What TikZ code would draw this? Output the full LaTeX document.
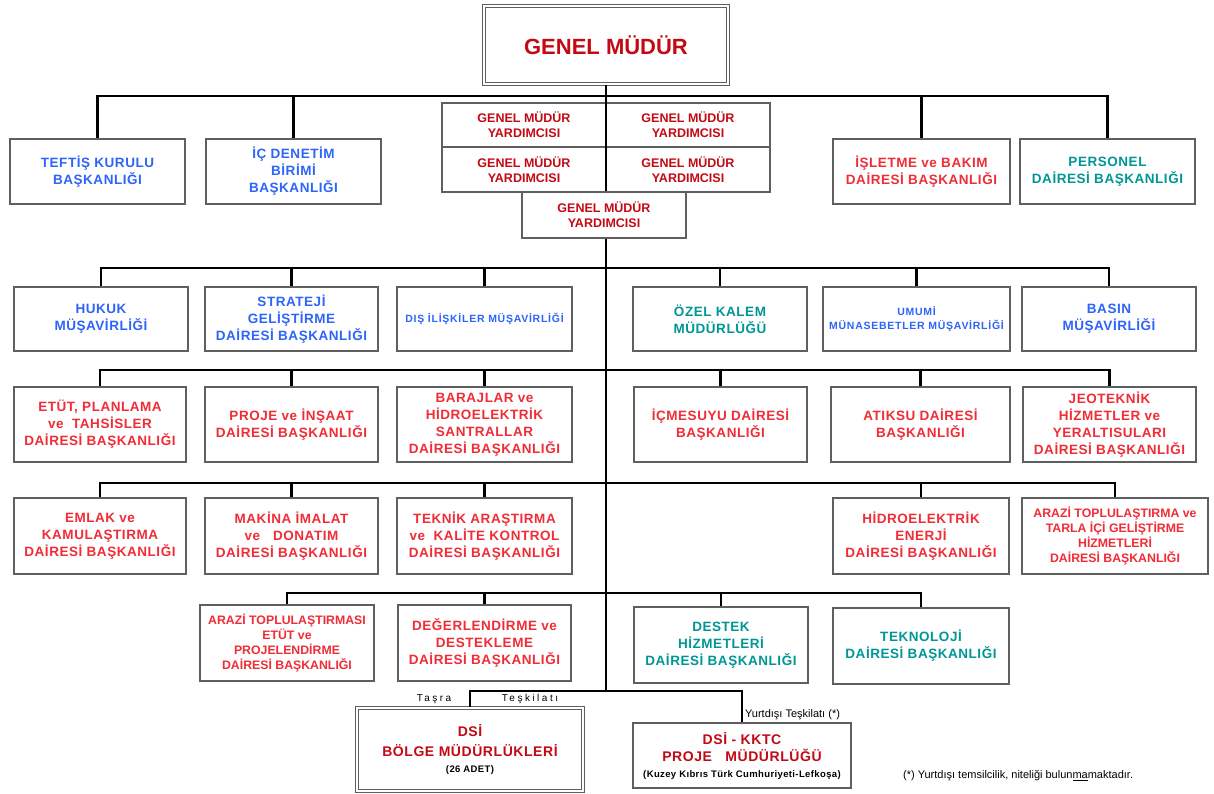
\documentclass[tikz,border=0pt]{standalone}
\usepackage{fontspec}
\setmainfont{Liberation Sans}
\newfontfamily\spacedfont[LetterSpace=25]{Liberation Sans}
\newfontfamily\boxfont[LetterSpace=4]{Liberation Sans}
\newfontfamily\smallboxfont[LetterSpace=7]{Liberation Sans}
\usetikzlibrary{shadows}
\definecolor{tred}{RGB}{240,45,55}
\definecolor{dred}{RGB}{195,10,20}
\definecolor{tblue}{RGB}{45,100,250}
\definecolor{tteal}{RGB}{0,150,150}
\definecolor{boxgray}{RGB}{95,95,95}
\tikzset{
  box/.style={draw=boxgray, line width=1.3pt, fill=white, align=center, inner sep=1pt,
    font=\boxfont\fontsize{13.5}{17}\selectfont\bfseries,
    drop shadow={shadow xshift=1.3pt, shadow yshift=-1.3pt, opacity=0.25}},
  sz/.style 2 args={minimum width=#1pt, minimum height=#2pt},
  dbox/.style={box, draw=boxgray, line width=1.6pt, double=white, double distance=1.4pt},
  gmyfont/.style={font=\fontsize{12.5}{15}\selectfont\bfseries},
  smallfont/.style={font=\smallboxfont\fontsize{10.5}{14}\selectfont\bfseries},
  narrowfont/.style={font=\fontsize{12.3}{15}\selectfont\bfseries},
  conn/.style={line width=2.6pt, black},
  lab/.style={inner sep=0pt, font=\fontsize{10}{12}\selectfont}
}
\begin{document}
\begin{tikzpicture}[x=1pt,y=-1pt]
\useasboundingbox (0,0) rectangle (1214,794);

% top
\node[dbox, sz={244}{78}, text=dred, font=\fontsize{22}{26}\selectfont\bfseries] (gm) at (606,45) {GENEL MÜDÜR};
\node[box, gmyfont, sz={164}{44}, text=dred] (gmy1) at (524,125) {GENEL MÜDÜR\\YARDIMCISI};
\node[box, gmyfont, sz={164}{44}, text=dred] (gmy2) at (688,125) {GENEL MÜDÜR\\YARDIMCISI};
\node[box, gmyfont, sz={164}{45}, text=dred] (gmy3) at (524,169.5) {GENEL MÜDÜR\\YARDIMCISI};
\node[box, gmyfont, sz={164}{45}, text=dred] (gmy4) at (688,169.5) {GENEL MÜDÜR\\YARDIMCISI};
\node[box, gmyfont, sz={164}{46}, text=dred] (gmy5) at (604,215) {GENEL MÜDÜR\\YARDIMCISI};

% row 1
\node[box, sz={175}{65}, text=tblue] (teftis) at (97.5,171.5) {TEFTİŞ KURULU\\BAŞKANLIĞI};
\node[box, sz={175}{65}, text=tblue] (icden) at (293.5,171.5) {İÇ DENETİM\\BİRİMİ\\BAŞKANLIĞI};
\node[box, sz={177}{65}, text=tred] (isletme) at (921.5,171.5) {İŞLETME ve BAKIM\\DAİRESİ BAŞKANLIĞI};
\node[box, sz={175}{65}, text=tteal] (personel) at (1107.5,171.5) {PERSONEL\\DAİRESİ BAŞKANLIĞI};

% row 2
\node[box, sz={174}{64}, text=tblue] (hukuk) at (101,319) {HUKUK\\MÜŞAVİRLİĞİ};
\node[box, sz={173}{64}, text=tblue] (strateji) at (291.5,319) {STRATEJİ\\GELİŞTİRME\\DAİRESİ BAŞKANLIĞI};
\node[box, smallfont, sz={175}{64}, text=tblue] (dis) at (484.5,319) {DIŞ İLİŞKİLER MÜŞAVİRLİĞİ};
\node[box, sz={174}{64}, text=tteal] (ozel) at (720,319) {ÖZEL KALEM\\MÜDÜRLÜĞÜ};
\node[box, smallfont, sz={187}{64}, text=tblue] (umumi) at (916.5,319) {UMUMİ\\MÜNASEBETLER MÜŞAVİRLİĞİ};
\node[box, sz={174}{64}, text=tblue] (basin) at (1109,319) {BASIN\\MÜŞAVİRLİĞİ};

% row 3
\node[box, sz={172}{75}, text=tred] (etut) at (100,424.5) {ETÜT, PLANLAMA\\ve\ \ TAHSİSLER\\DAİRESİ BAŞKANLIĞI};
\node[box, sz={173}{75}, text=tred] (proje) at (291.5,424.5) {PROJE ve İNŞAAT\\DAİRESİ BAŞKANLIĞI};
\node[box, sz={175}{75}, text=tred] (baraj) at (484.5,424.5) {BARAJLAR ve\\HİDROELEKTRİK\\SANTRALLAR\\DAİRESİ BAŞKANLIĞI};
\node[box, sz={173}{75}, text=tred] (icme) at (720.5,424.5) {İÇMESUYU DAİRESİ\\BAŞKANLIĞI};
\node[box, sz={179}{75}, text=tred] (atik) at (920.5,424.5) {ATIKSU DAİRESİ\\BAŞKANLIĞI};
\node[box, sz={173}{75}, text=tred] (jeo) at (1109.5,424.5) {JEOTEKNİK\\HİZMETLER ve\\YERALTISULARI\\DAİRESİ BAŞKANLIĞI};

% row 4
\node[box, sz={172}{76}, text=tred] (emlak) at (100,536) {EMLAK ve\\KAMULAŞTIRMA\\DAİRESİ BAŞKANLIĞI};
\node[box, sz={173}{76}, text=tred] (makina) at (291.5,536) {MAKİNA İMALAT\\ve\ \ \ DONATIM\\DAİRESİ BAŞKANLIĞI};
\node[box, sz={175}{76}, text=tred] (teknik) at (484.5,536) {TEKNİK ARAŞTIRMA\\ve\ \ KALİTE KONTROL\\DAİRESİ BAŞKANLIĞI};
\node[box, sz={176}{76}, text=tred] (hidro) at (921,536) {HİDROELEKTRİK\\ENERJİ\\DAİRESİ BAŞKANLIĞI};
\node[box, narrowfont, sz={186}{76}, text=tred] (arazia) at (1115,536) {ARAZİ TOPLULAŞTIRMA ve\\TARLA İÇİ GELİŞTİRME\\HİZMETLERİ\\DAİRESİ BAŞKANLIĞI};

% row 5
\node[box, narrowfont, sz={174}{76}, text=tred] (arazib) at (287,643) {ARAZİ TOPLULAŞTIRMASI\\ETÜT ve\\PROJELENDİRME\\DAİRESİ BAŞKANLIĞI};
\node[box, sz={173}{76}, text=tred] (degerl) at (484.5,643) {DEĞERLENDİRME ve\\DESTEKLEME\\DAİRESİ BAŞKANLIĞI};
\node[box, sz={174}{76}, text=tteal] (destek) at (721,645) {DESTEK\\HİZMETLERİ\\DAİRESİ BAŞKANLIĞI};
\node[box, sz={176}{76}, text=tteal] (teknoloji) at (921,646) {TEKNOLOJİ\\DAİRESİ BAŞKANLIĞI};

% row 6
\node[dbox, sz={226}{83}, text=dred, font=\boxfont\fontsize{14}{20}\selectfont\bfseries] (bolge) at (470,749.5) {DSİ\\BÖLGE MÜDÜRLÜKLERİ\\[-4pt]{\color{black}\fontsize{9.5}{11}\selectfont(26 ADET)}};
\node[box, sz={218}{65}, text=dred, font=\boxfont\fontsize{14}{17}\selectfont\bfseries] (kktc) at (742,755.5) {DSİ - KKTC\\PROJE\ \ \ MÜDÜRLÜĞÜ\\[-1pt]{\color{black}\fontsize{9.5}{11}\selectfont(Kuzey Kıbrıs Türk Cumhuriyeti-Lefkoşa)}};

% junctions on trunk
\coordinate (j1) at (606,96);
\coordinate (j2) at (606,268);
\coordinate (j3) at (606,370);
\coordinate (j4) at (606,483);
\coordinate (j5) at (606,593);
\coordinate (j6) at (606,691);

% trunk
\draw[conn] (gm.south) -- (gmy5.north -| gm.south);
\draw[conn] (gmy5.south -| gm.south) -- (j6);

% row 1 bus
\draw[conn] (teftis.north) |- (j1) -| (personel.north);
\draw[conn] (icden.north) -- (icden.north |- j1);
\draw[conn] (isletme.north) -- (isletme.north |- j1);
% row 2 bus
\draw[conn] (hukuk.north) |- (j2) -| (basin.north);
\draw[conn] (strateji.north) -- (strateji.north |- j2);
\draw[conn] (dis.north) -- (dis.north |- j2);
\draw[conn] (ozel.north) -- (ozel.north |- j2);
\draw[conn] (umumi.north) -- (umumi.north |- j2);
% row 3 bus
\draw[conn] (etut.north) |- (j3) -| (jeo.north);
\draw[conn] (proje.north) -- (proje.north |- j3);
\draw[conn] (baraj.north) -- (baraj.north |- j3);
\draw[conn] (icme.north) -- (icme.north |- j3);
\draw[conn] (atik.north) -- (atik.north |- j3);
% row 4 bus
\draw[conn] (emlak.north) |- (j4) -| (arazia.north);
\draw[conn] (makina.north) -- (makina.north |- j4);
\draw[conn] (teknik.north) -- (teknik.north |- j4);
\draw[conn] (hidro.north) -- (hidro.north |- j4);
% row 5 bus
\draw[conn] (arazib.north) |- (j5) -| (teknoloji.north);
\draw[conn] (degerl.north) -- (degerl.north |- j5);
\draw[conn] (destek.north) -- (destek.north |- j5);
% row 6
\draw[conn] (bolge.north) |- (j6) -| (kktc.north);

% labels
\node[lab, font=\spacedfont\fontsize{10}{12}\selectfont] (tasra) at (434,699) {Taşra};
\node[lab, font=\spacedfont\fontsize{10}{12}\selectfont] (teskilati) at (530,699) {Teşkilatı};
\node[lab, anchor=west, font=\fontsize{11}{13}\selectfont] (yurtdisi) at (745,715) {Yurtdışı Teşkilatı (*)};
\node[lab, anchor=west, font=\fontsize{11}{13}\selectfont] (dipnot) at (903,776) {(*) Yurtdışı temsilcilik, niteliği bulun\underline{ma}maktadır.};
\end{tikzpicture}
\end{document}
